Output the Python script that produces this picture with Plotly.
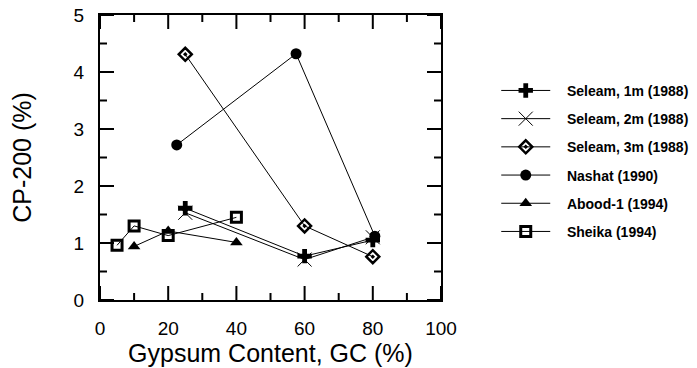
import plotly.graph_objects as go

# Data
s1m_x = [25, 60, 80]
s1m_y = [1.61, 0.77, 1.05]
s2m_x = [25, 60, 80]
s2m_y = [1.53, 0.71, 1.10]
s3m_x = [25, 60, 80]
s3m_y = [4.31, 1.30, 0.76]
nashat_x = [22.5, 57.5, 80.6]
nashat_y = [2.72, 4.32, 1.12]
abood_x = [10, 20, 40]
abood_y = [0.94, 1.21, 1.01]
sheika_x = [5, 10, 20, 40]
sheika_y = [0.96, 1.30, 1.13, 1.45]

names = ["Seleam, 1m (1988)", "Seleam, 2m (1988)", "Seleam, 3m (1988)",
         "Nashat (1990)", "Abood-1 (1994)", "Sheika (1994)"]

x_range = [0, 100]
y_range = [0, 5]
x_major, x_minor = 20, 10
y_major, y_minor = 1, 0.5

series = [
    (s1m_x, s1m_y, dict(symbol="cross", size=12, color="black")),
    (s2m_x, s2m_y, dict(symbol="x-thin-open", size=14, color="black", line=dict(width=1, color="black"))),
    (s3m_x, s3m_y, dict(symbol="diamond-open-dot", size=10, color="black", line=dict(width=2.5, color="black"))),
    (nashat_x, nashat_y, dict(symbol="circle", size=11, color="black")),
    (abood_x, abood_y, dict(symbol="triangle-up", size=11, color="black")),
    (sheika_x, sheika_y, dict(symbol="square-open", size=10, color="black", line=dict(width=3, color="black"))),
]

NB = "\u00a0" * 3
font_family = "Liberation Sans, Arial"

FIG_W, FIG_H = 720, 368
M_L, M_R, M_T, M_B = 100, 279, 15, 68
PLOT_W = FIG_W - M_L - M_R
PLOT_H = FIG_H - M_T - M_B

fig = go.Figure()
for i, ((x, y, mk), nm) in enumerate(zip(series, names)):
    fig.add_trace(go.Scatter(x=x, y=y, mode="lines+markers", name=NB + nm,
                             legendgroup=f"g{i}",
                             line=dict(color="black", width=1), marker=mk))

MAJOR_LEN, MINOR_LEN = 14, 7


def steps(lo, hi, step):
    n = int(round((hi - lo) / step))
    return [lo + k * step for k in range(n + 1)]


def is_major(v, major):
    return abs(v / major - round(v / major)) < 1e-9


# tick marks as paper-referenced shapes (x ticks use x data position, y ticks use y data position)
tick_line = dict(color="black", width=2)
shapes = []
for v in steps(x_range[0], x_range[1], x_minor):
    f = (MAJOR_LEN if is_major(v, x_major) else MINOR_LEN) / PLOT_H
    shapes.append(dict(type="line", xref="x", yref="paper", x0=v, x1=v, y0=0, y1=f,
                       line=tick_line, layer="above"))
    shapes.append(dict(type="line", xref="x", yref="paper", x0=v, x1=v, y0=1, y1=1 - f,
                       line=tick_line, layer="above"))
for v in steps(y_range[0], y_range[1], y_minor):
    f = (MAJOR_LEN if is_major(v, y_major) else MINOR_LEN) / PLOT_W
    shapes.append(dict(type="line", xref="paper", yref="y", x0=0, x1=f, y0=v, y1=v,
                       line=tick_line, layer="above"))
    shapes.append(dict(type="line", xref="paper", yref="y", x0=1, x1=1 - f, y0=v, y1=v,
                       line=tick_line, layer="above"))

main_common = dict(
    showgrid=False, zeroline=False, showline=True, linecolor="black", linewidth=2,
    mirror=True, ticks="", automargin=False, ticklabelstandoff=10,
    tickfont=dict(family=font_family, size=19, color="black"),
)

fig.update_layout(
    xaxis=dict(range=x_range, tick0=0, dtick=x_major,
               title=dict(text="Gypsum Content, GC (%)", standoff=4,
                          font=dict(family=font_family, size=25, color="black")),
               **main_common),
    yaxis=dict(range=y_range, tick0=0, dtick=y_major,
               title=dict(text="CP-200 (%)", standoff=35,
                          font=dict(family=font_family, size=25, color="black")),
               **main_common),
    shapes=shapes,
    width=FIG_W, height=FIG_H,
    margin=dict(l=M_L, r=M_R, t=M_T, b=M_B),
    plot_bgcolor="white", paper_bgcolor="white",
    showlegend=True,
    legend=dict(x=1.162, y=0.79, xanchor="left", yanchor="top",
                font=dict(family=font_family, size=14, color="black", weight="bold"),
                itemwidth=49, tracegroupgap=7, traceorder="grouped",
                bgcolor="rgba(0,0,0,0)"),
)

fig.write_html("out.html", config={"displayModeBar": False},
               post_script="document.body.style.margin='0px';document.body.style.overflow='hidden';")
